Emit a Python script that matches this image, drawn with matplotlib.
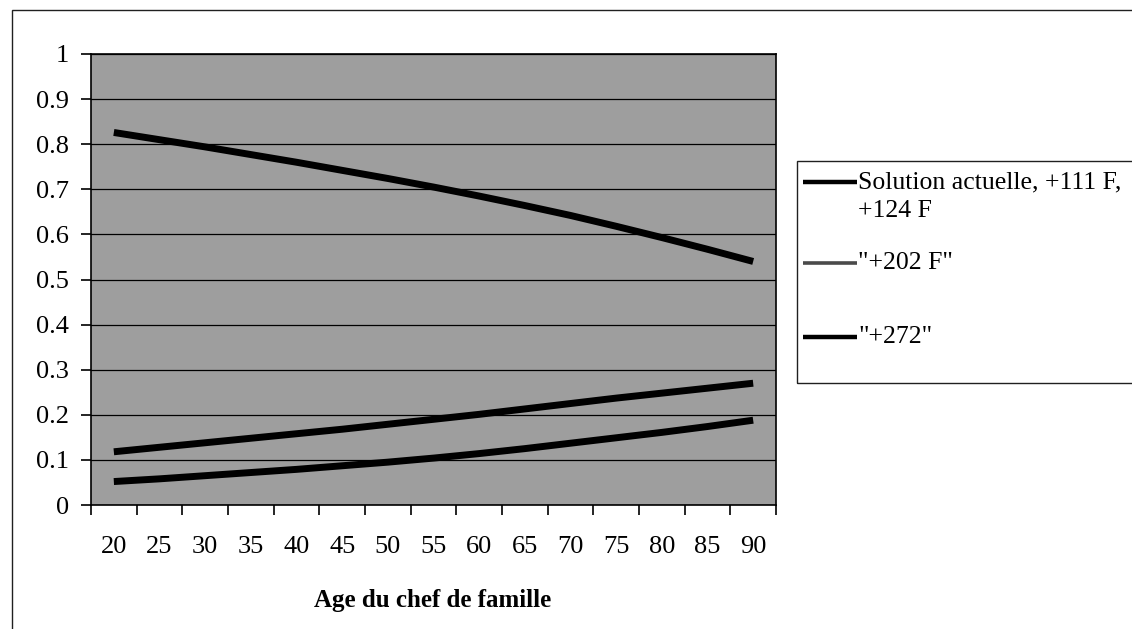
import matplotlib
matplotlib.use("Agg")
import matplotlib.pyplot as plt
from matplotlib.patches import Rectangle
from matplotlib.lines import Line2D
import numpy as np

# --- data ---
ages = [20, 25, 30, 35, 40, 45, 50, 55, 60, 65, 70, 75, 80, 85, 90]
solution_actuelle = [0.826, 0.810, 0.794, 0.777, 0.760, 0.742, 0.724, 0.705,
                     0.685, 0.664, 0.642, 0.618, 0.593, 0.567, 0.540]
plus_202 = [0.118, 0.128, 0.138, 0.148, 0.158, 0.168, 0.179, 0.190,
            0.201, 0.213, 0.225, 0.237, 0.248, 0.259, 0.270]
plus_272 = [0.052, 0.058, 0.065, 0.072, 0.079, 0.087, 0.095, 0.104,
            0.114, 0.125, 0.137, 0.149, 0.161, 0.174, 0.188]
series_labels = [['Solution actuelle, +111 F,', '+124 F'], ['"+202 F"'], ['"+272"']]
y_ticks = [0, 0.1, 0.2, 0.3, 0.4, 0.5, 0.6, 0.7, 0.8, 0.9, 1]
y_tick_labels = ['0', '0.1', '0.2', '0.3', '0.4', '0.5', '0.6', '0.7', '0.8', '0.9', '1']

plt.rcParams['font.family'] = ['Liberation Serif', 'DejaVu Serif']

W, H = 1132, 629
fig = plt.figure(figsize=(W / 100, H / 100), dpi=100)
fig.patch.set_facecolor('white')


def fx(px):
    return px / W


def fy(py):
    return 1 - py / H


# outer chart border (bottom runs off the page)
fig.add_artist(Rectangle((fx(12), fy(640)), fx(1135) - fx(12), fy(10) - fy(640),
                         transform=fig.transFigure, fill=False,
                         edgecolor='#202020', linewidth=1.0))

ax = fig.add_axes([fx(91), fy(505), fx(776) - fx(91), fy(54) - fy(505)])
ax.set_facecolor('#9e9e9e')

idx = np.arange(len(ages))
for vals in (solution_actuelle, plus_202, plus_272):
    ax.plot(idx, vals, color='black', linewidth=5, solid_capstyle='butt', zorder=3)

ax.set_xlim(-0.5, len(ages) - 0.5)
ax.set_ylim(0, 1)

# horizontal gridlines
ax.set_yticks(y_ticks)
ax.set_yticklabels(y_tick_labels)
ax.yaxis.grid(True, color='black', linewidth=0.9, zorder=1)
ax.set_axisbelow(True)

# category axis: labels at centres, tick marks between categories
ax.set_xticks(idx)
ax.set_xticklabels([str(a) for a in ages])
ax.set_xticks(np.arange(-0.5, len(ages), 1), minor=True)
ax.tick_params(axis='x', which='major', length=0, pad=22, labelsize=19)
ax.tick_params(axis='x', which='minor', length=7, width=1.2, direction='out')
ax.tick_params(axis='y', length=7, width=1.2, direction='out', pad=9, labelsize=19)

for s in ax.spines.values():
    s.set_color('black')
    s.set_linewidth(1.2)

fig.text(fx(433), fy(601), 'Age du chef de famille', ha='center', va='center',
         fontsize=18, fontweight='bold')

# legend box (runs off the right edge)
fig.add_artist(Rectangle((fx(797), fy(383)), fx(1140) - fx(797), fy(161) - fy(383),
                         transform=fig.transFigure, fill=False,
                         edgecolor='#202020', linewidth=1.0))
leg_y = [182, 263, 337]
leg_style = [('black', 3.2), ('#4a4a4a', 2.6), ('black', 3.2)]
for lines, yy, (col, lw) in zip(series_labels, leg_y, leg_style):
    fig.add_artist(Line2D([fx(803), fx(857)], [fy(yy), fy(yy)],
                          transform=fig.transFigure, color=col, linewidth=lw,
                          solid_capstyle='butt'))
    for k, txt in enumerate(lines):
        fig.text(fx(858), fy(yy + 29 * k), txt, ha='left', va='center', fontsize=18.5)

fig.savefig('out.png', dpi=100)
